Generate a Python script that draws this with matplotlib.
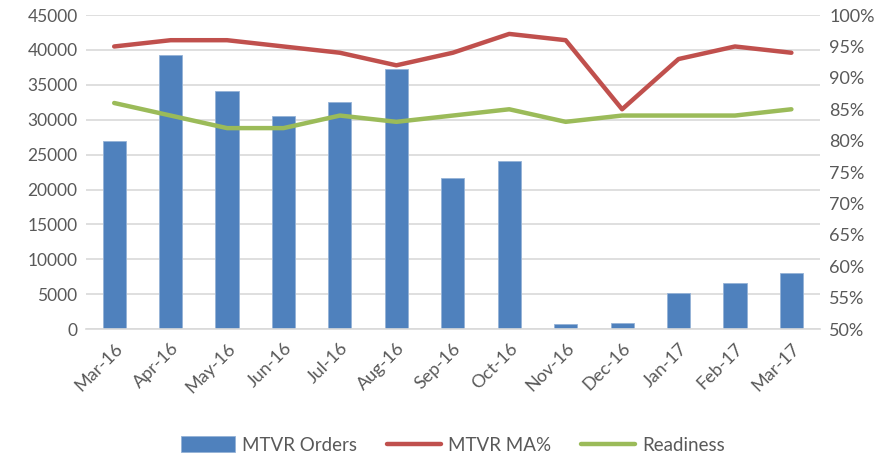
"""MTVR orders vs MA% and readiness, combo bar/line chart"""

import numpy as np
import matplotlib
matplotlib.use('Agg')
import matplotlib.pyplot as plt
from matplotlib.ticker import FuncFormatter

months = ['Mar-16', 'Apr-16', 'May-16', 'Jun-16', 'Jul-16', 'Aug-16', 'Sep-16',
          'Oct-16', 'Nov-16', 'Dec-16', 'Jan-17', 'Feb-17', 'Mar-17']
orders = [27000, 39300, 34100, 30500, 32600, 37300, 21700,
          24100, 700, 850, 5200, 6600, 8000]
ma_pct = [95, 96, 96, 95, 94, 92, 94, 97, 96, 85, 93, 95, 94]
readiness = [86, 84, 82, 82, 84, 83, 84, 85, 83, 84, 84, 84, 85]

plt.rcParams['font.family'] = ['Lato', 'DejaVu Sans']
grey = '#595959'

fig = plt.figure(figsize=(8.88, 4.57), dpi=100)
ax = fig.add_axes([0.0968, 0.28, 0.8262, 0.687])
ax2 = ax.twinx()

x = np.arange(len(months))
ax.bar(x, orders, width=0.41, color='#4F81BD', edgecolor='#95B3D7',
       linewidth=0.6, label='MTVR Orders', zorder=2)
ax2.plot(x, np.array(ma_pct) / 100, color='#C0504D', lw=3.2,
         solid_capstyle='round', label='MTVR MA%')
ax2.plot(x, np.array(readiness) / 100, color='#9BBB59', lw=3.2,
         solid_capstyle='round', label='Readiness')

ax.set_xlim(-0.5, len(months) - 0.5)
ax.set_ylim(0, 45000)
ax.set_yticks(np.arange(0, 45001, 5000))
ax2.set_ylim(0.5, 1.0)
ax2.set_yticks(np.arange(0.5, 1.001, 0.05))
ax2.yaxis.set_major_formatter(FuncFormatter(lambda v, p: '{:.0f}%'.format(v * 100)))

ax.yaxis.grid(True, color='#D9D9D9', lw=1.2, zorder=0)
ax.set_axisbelow(True)
for a in (ax, ax2):
    for s in a.spines.values():
        s.set_visible(False)
    a.tick_params(length=0, colors=grey, labelsize=13)
ax.tick_params(axis='y', labelsize=12.5)
ax.spines['bottom'].set_visible(True)
ax.spines['bottom'].set_color('#D9D9D9')
ax.spines['bottom'].set_linewidth(1.2)

ax.set_xticks(x)
ax.set_xticklabels(months, rotation=45, ha='right', rotation_mode='anchor')
ax.tick_params(axis='x', pad=8)
ax.tick_params(axis='y', pad=6)
ax2.tick_params(axis='y', pad=7)

h1, l1 = ax.get_legend_handles_labels()
h2, l2 = ax2.get_legend_handles_labels()
fig.legend(h1 + h2, l1 + l2, loc='center', bbox_to_anchor=(0.51, 0.026),
           ncol=3, frameon=False, fontsize=13.5, labelcolor=grey,
           handlelength=2.9, handleheight=0.9, columnspacing=1.6, handletextpad=0.35)

fig.savefig('out.png', dpi=100)
